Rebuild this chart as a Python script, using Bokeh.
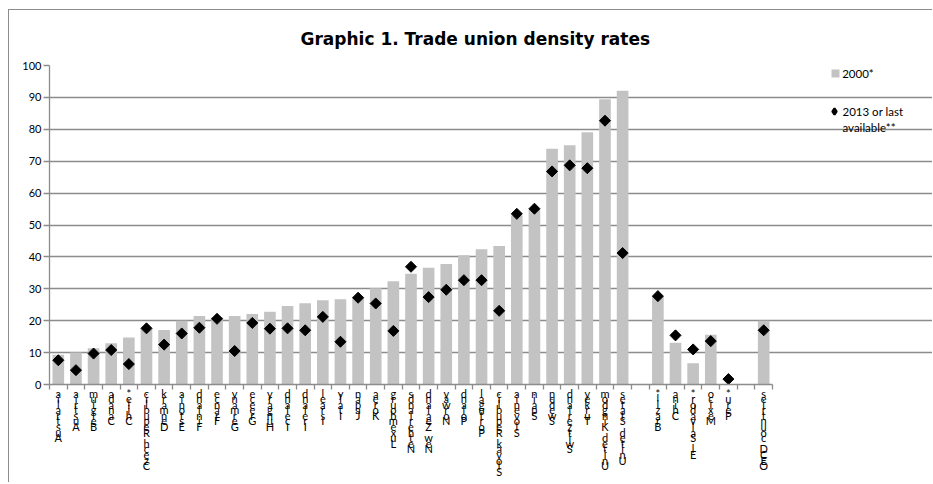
import numpy as np
from bokeh.plotting import figure
from bokeh.models import (ColumnDataSource, Range1d, FixedTicker, Legend, LegendItem,
                          CDSView, IndexFilter)
from bokeh.embed import file_html
from bokeh.resources import INLINE

nan = float("nan")

countries = ["Australia", "Austria", "Belgium", "Canada", "Chile*", "Czech Republic",
             "Denmark", "Estonia", "Finland", "France", "Germany", "Greece", "Hungary",
             "Iceland", "Ireland", "Israel", "Italy", "Japan", "Korea", "Luxembourg",
             "Netherlands", "New Zealand", "Norway", "Poland", "Portugal",
             "Slovak Republic", "Slovenia", "Spain", "Sweden", "Switzerland", "Turkey",
             "United Kingdom", "United States", "",
             "Brazil*", "China", "El Salvador*", "Mexico", "Peru*", "",
             "OECD countries"]

density_2000 = [9.3, 10.0, 11.4, 12.9, 14.7, 17.4, 17.1, 20.0, 21.5, 21.0, 21.5, 22.1,
                22.8, 24.6, 25.5, 26.4, 26.7, 27.5, 30.2, 32.4, 34.7, 36.6, 37.8, 40.5,
                42.4, 43.4, 53.0, 55.0, 73.9, 75.0, 79.1, 89.4, 92.1, nan,
                27.5, 13.1, 6.7, 15.6, nan, nan,
                20.0]

density_2013 = [7.6, 4.5, 9.7, 10.8, 6.4, 17.6, 12.5, 16.0, 17.8, 20.6, 10.5, 19.3,
                17.5, 17.6, 17.0, 21.2, 13.4, 27.2, 25.4, 16.8, 36.9, 27.4, 29.7, 32.7,
                32.7, 23.1, 53.5, 55.1, 66.8, 68.7, 67.8, 82.7, 41.2, nan,
                27.7, 15.4, 11.0, 13.6, 1.7, nan,
                17.0]

y_ticks = list(range(0, 101, 10))

FONT = "Lato"
GRID = "#8c8c8c"

W, H = 924, 473
LEFT, TOP, BOTTOM = 40, 55, 99
AXIS_W = 723          # width in px of the category axis part of the frame

n = len(countries)
xpos = np.arange(n) + 0.5
x_end = n * (W - LEFT) / AXIS_W
src = ColumnDataSource(dict(x=xpos, v2000=density_2000, v2013=density_2013))

p = figure(width=W, height=H, output_backend="svg", toolbar_location=None,
           x_range=Range1d(0, x_end), y_range=Range1d(0, 100),
           min_border_left=LEFT, min_border_right=0, min_border_top=TOP,
           min_border_bottom=BOTTOM, outline_line_color=None,
           title="Graphic 1. Trade union density rates")
# a range that no data falls in: used only by the legend-key renderer
p.extra_y_ranges = {"legend_only": Range1d(1000, 1100)}
p.styles = {"border-left": "1.5px solid #8c8c8c", "border-top": "1.5px solid #8c8c8c",
            "margin-top": "9px", "margin-left": "7.5px"}

p.title.align = "left"
p.title.offset = 251
p.title.text_font = "DejaVu Sans"
p.title.text_font_size = "17px"
p.title.text_font_style = "bold"
p.title.text_color = "#000000"
p.title.standoff = 33

bars = p.vbar(x="x", top="v2000", width=0.66, source=src, fill_color="#c3c3c3",
              line_color=None)
pts = p.scatter(x="x", y="v2013", source=src, marker="square", angle=np.pi / 4,
                size=7.8, fill_color="black", line_color="black")
# legend key for the diamonds (its points fall outside the visible range)
first = CDSView(filter=IndexFilter(indices=[0]))
leg_diamond = p.scatter(x="x", y="v2013", source=src, view=first, marker="diamond",
                        y_range_name="legend_only",
                        fill_color="black", line_color="black", line_width=2.2)
ghost = p.scatter(x="x", y="v2013", source=src, view=CDSView(filter=IndexFilter(indices=[])),
                  marker="square", fill_alpha=0, line_alpha=0)

# x axis: labels at category centres, ticks at category boundaries
xa = p.xaxis[0]
labels = {float(x): "\n".join(reversed(c)) if c else " " for x, c in zip(xpos, countries)}
xa.ticker = FixedTicker(ticks=list(xpos), minor_ticks=list(np.arange(n + 1)))
xa.bounds = (0, n)
xa.major_label_overrides = labels
xa.major_tick_line_color = None
xa.major_tick_in = 0
xa.major_tick_out = 0
xa.minor_tick_in = 0
xa.minor_tick_out = 5
xa.minor_tick_line_color = GRID
xa.minor_tick_line_width = 1.3
xa.axis_line_color = GRID
xa.axis_line_width = 1.3
xa.major_label_standoff = -3
xa.major_label_text_font = FONT
xa.major_label_text_font_size = "11px"
xa.major_label_text_line_height = 0.43
xa.major_label_text_color = "#000000"
xa.major_label_orientation = "horizontal"

ya = p.yaxis[0]
ya.ticker = FixedTicker(ticks=y_ticks, minor_ticks=[])
ya.major_tick_in = 0
ya.major_tick_out = 6
ya.major_tick_line_color = GRID
ya.major_tick_line_width = 1.3
ya.axis_line_color = GRID
ya.axis_line_width = 1.3
ya.major_label_standoff = 2
ya.major_label_text_font = FONT
ya.major_label_text_font_size = "11px"
ya.major_label_text_color = "#000000"

p.xgrid.grid_line_color = None
p.ygrid.grid_line_color = GRID
p.ygrid.grid_line_width = 1.3
p.ygrid.bounds = (0, n)

leg1 = Legend(items=[LegendItem(label="2000*", renderers=[bars])],
              location=(781.7, 303), glyph_width=10, glyph_height=10, label_height=16,
              label_standoff=2, padding=0, margin=0, spacing=0,
              border_line_color=None, background_fill_alpha=0,
              label_text_font=FONT, label_text_font_size="11.5px",
              label_text_color="#000000")
leg2 = Legend(items=[LegendItem(label="2013 or last", renderers=[leg_diamond]),
                     LegendItem(label="available**", renderers=[ghost])],
              location=(776, 249), glyph_width=18, glyph_height=16, label_height=16,
              label_standoff=0, padding=0, margin=0, spacing=0,
              border_line_color=None, background_fill_alpha=0,
              label_text_font=FONT, label_text_font_size="11.5px",
              label_text_color="#000000")
p.add_layout(leg1, "center")
p.add_layout(leg2, "center")

open("out.html", "w").write(file_html(p, INLINE))
